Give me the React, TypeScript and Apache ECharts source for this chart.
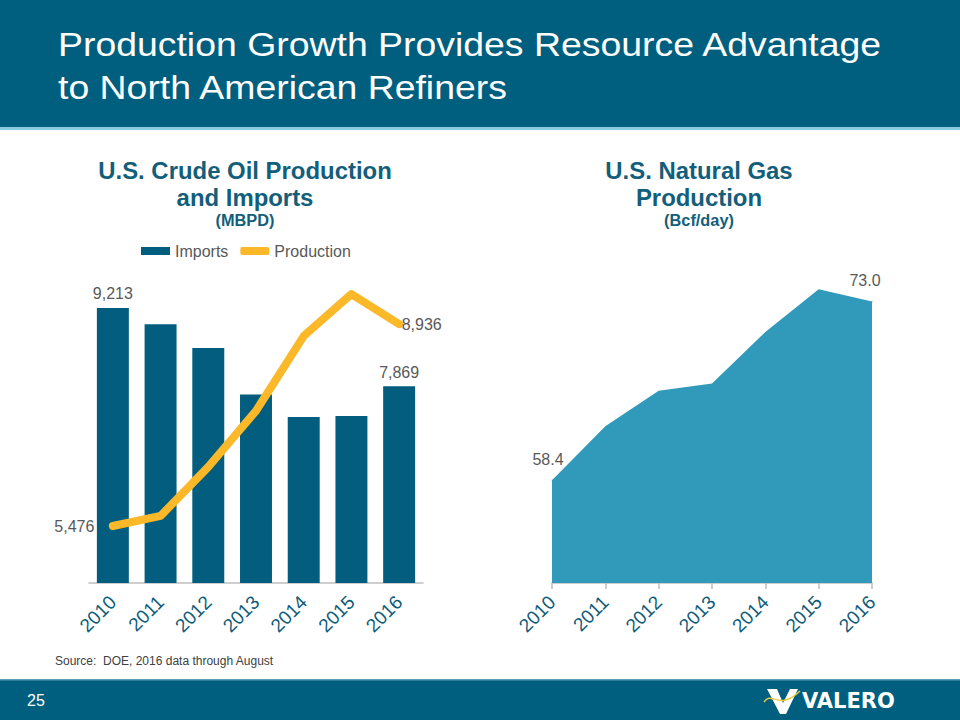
import React, { useEffect, useRef } from "react";
import * as echarts from "echarts";

const years = ["2010", "2011", "2012", "2013", "2014", "2015", "2016"];
const imports = [9213, 8935, 8527, 7730, 7344, 7363, 7869];
const production = [5476, 5649, 6490, 7450, 8730, 9450, 8936];
const gas = [58.4, 62.8, 65.7, 66.3, 70.5, 74.0, 73.0];

const importsLabelIdx = [0, 6];
const productionLabelIdx = [0, 6];
const gasLabelIdx = [0, 6];

const TEAL = "#005e7e";
const BAR = "#035d7e";
const GOLD = "#fbb829";
const AREA = "#3199b9";
const TITLE = "#135e7b";
const LABEL = "#595959";
const FONT = "Liberation Sans, Arial, sans-serif";

const fmt = (v: number) => v.toLocaleString("en-US");

export default function App() {
  const ref = useRef<HTMLDivElement>(null);
  useEffect(() => {
    if (!ref.current) return;
    const chart = echarts.init(ref.current, null, { renderer: "svg" });
    const titleText = (x: number, y: number, text: string, size: number) => ({
      type: "text",
      x,
      y,
      scaleX: size > 18 ? 1.04 : 1.02,
      style: { text, fill: TITLE, fontSize: size, fontWeight: "bold", fontFamily: FONT, align: "center", verticalAlign: "middle" },
    });
    const option: any = {
      animation: false,
      backgroundColor: "#ffffff",
      textStyle: { fontFamily: FONT },
      legend: {
        left: 136,
        top: 238,
        itemWidth: 29,
        itemHeight: 8,
        itemGap: 12,
        textStyle: { fontSize: 16, color: LABEL, fontFamily: FONT },
        data: [
          { name: "Imports", icon: "rect" },
          { name: "Production", icon: "roundRect" },
        ],
      },
      grid: [
        { left: 89, width: 334, top: 262, height: 321 },
        { left: 552, width: 320, top: 277, height: 306 },
      ],
      xAxis: [
        {
          type: "category",
          gridIndex: 0,
          data: years,
          boundaryGap: true,
          axisLine: { lineStyle: { color: "#bfbfbf", width: 1.5 } },
          axisTick: { show: false },
          axisLabel: { rotate: 45, fontSize: 19, color: "#0d5b79", margin: 16, fontFamily: FONT },
        },
        {
          type: "category",
          gridIndex: 1,
          data: years,
          boundaryGap: false,
          axisLine: { lineStyle: { color: "#bfbfbf", width: 1.5 } },
          axisTick: { show: true, length: 6, lineStyle: { color: "#bfbfbf", width: 1.5 } },
          axisLabel: { rotate: 45, fontSize: 19, color: "#0d5b79", margin: 16, fontFamily: FONT },
        },
      ],
      yAxis: [
        { type: "value", gridIndex: 0, min: 4500, max: 10000, show: false, splitLine: { show: false } },
        { type: "value", gridIndex: 1, min: 50, max: 75, show: false, splitLine: { show: false } },
      ],
      series: [
        {
          name: "Imports",
          type: "bar",
          xAxisIndex: 0,
          yAxisIndex: 0,
          barCategoryGap: "33%",
          itemStyle: { color: BAR },
          data: imports.map((v, i) => ({
            value: v,
            label: {
              show: importsLabelIdx.includes(i),
              position: "top",
              distance: 6,
              fontSize: 16,
              color: LABEL,
              formatter: (p: any) => fmt(p.value),
            },
          })),
        },
        {
          name: "Production",
          type: "line",
          xAxisIndex: 0,
          yAxisIndex: 0,
          symbol: "none",
          itemStyle: { color: GOLD },
          lineStyle: { color: GOLD, width: 8, cap: "round", join: "round" },
          z: 3,
          data: production.map((v, i) => ({
            value: v,
            symbol: productionLabelIdx.includes(i) ? "circle" : "none",
            symbolSize: 1,
            label: {
              show: productionLabelIdx.includes(i),
              position: i === 0 ? "left" : "right",
              distance: i === 0 ? 18 : 2,
              fontSize: 16,
              color: LABEL,
              formatter: (p: any) => fmt(p.value),
            },
          })),
        },
        {
          name: "Gas",
          type: "line",
          xAxisIndex: 1,
          yAxisIndex: 1,
          symbol: "none",
          lineStyle: { width: 0, color: AREA },
          itemStyle: { color: AREA },
          areaStyle: { color: AREA, opacity: 1 },
          data: gas.map((v, i) => ({
            value: v,
            symbol: gasLabelIdx.includes(i) ? "circle" : "none",
            symbolSize: 1,
            label: {
              show: gasLabelIdx.includes(i),
              position: "top",
              distance: 12,
              offset: [i === 0 ? -4 : -7, 0],
              fontSize: 16,
              color: LABEL,
              formatter: (p: any) => p.value.toFixed(1),
            },
          })),
        },
      ],
      graphic: [
        { type: "rect", shape: { x: 0, y: 0, width: 960, height: 127 }, style: { fill: TEAL }, z: -1 },
        { type: "rect", shape: { x: 0, y: 127, width: 960, height: 3 }, style: { fill: "#8ccbe0" }, z: -1 },
        {
          type: "text",
          x: 58,
          y: 45,
          scaleX: 1.1,
          style: { text: "Production Growth Provides Resource Advantage", fill: "#ffffff", fontSize: 34, fontFamily: FONT, verticalAlign: "middle" },
        },
        {
          type: "text",
          x: 58,
          y: 88,
          scaleX: 1.1,
          style: { text: "to North American Refiners", fill: "#ffffff", fontSize: 34, fontFamily: FONT, verticalAlign: "middle" },
        },
        titleText(245, 171, "U.S. Crude Oil Production", 23),
        titleText(245, 198, "and Imports", 23),
        titleText(245, 220, "(MBPD)", 16),
        titleText(699, 171, "U.S. Natural Gas", 23),
        titleText(699, 198, "Production", 23),
        titleText(699, 220, "(Bcf/day)", 16),
        { type: "text", x: 55, y: 661, style: { text: "Source:  DOE, 2016 data through August", fill: "#404040", fontSize: 12, fontFamily: FONT, verticalAlign: "middle" } },
        { type: "rect", shape: { x: 0, y: 680, width: 960, height: 40 }, style: { fill: TEAL }, z: -1 },
        { type: "rect", shape: { x: 0, y: 679, width: 960, height: 1.5 }, style: { fill: "#5f9fb6" }, z: -1 },
        { type: "text", x: 27, y: 700, style: { text: "25", fill: "#ffffff", fontSize: 16, fontFamily: FONT, verticalAlign: "middle" } },
        {
          type: "polygon",
          shape: { points: [[767, 689], [777, 689], [783, 703], [790, 689], [798, 689], [786, 714], [780, 714]] },
          style: { fill: "#ffffff" },
        },
        {
          type: "bezierCurve",
          shape: { x1: 764, y1: 702, x2: 800, y2: 691, cpx1: 772, cpy1: 690, cpx2: 778, cpy2: 712 },
          style: { stroke: "#e8c93a", lineWidth: 1.5, fill: null },
        },
        { type: "text", x: 802, y: 701, style: { text: "VALERO", fill: "#ffffff", fontSize: 21, fontWeight: 900, fontFamily: "DejaVu Sans, sans-serif", verticalAlign: "middle" } },
      ],
    };
    chart.setOption(option);
    return () => chart.dispose();
  }, []);
  return <div ref={ref} style={{ position: "fixed", left: 0, top: 0, width: 960, height: 720 }} />;
}
